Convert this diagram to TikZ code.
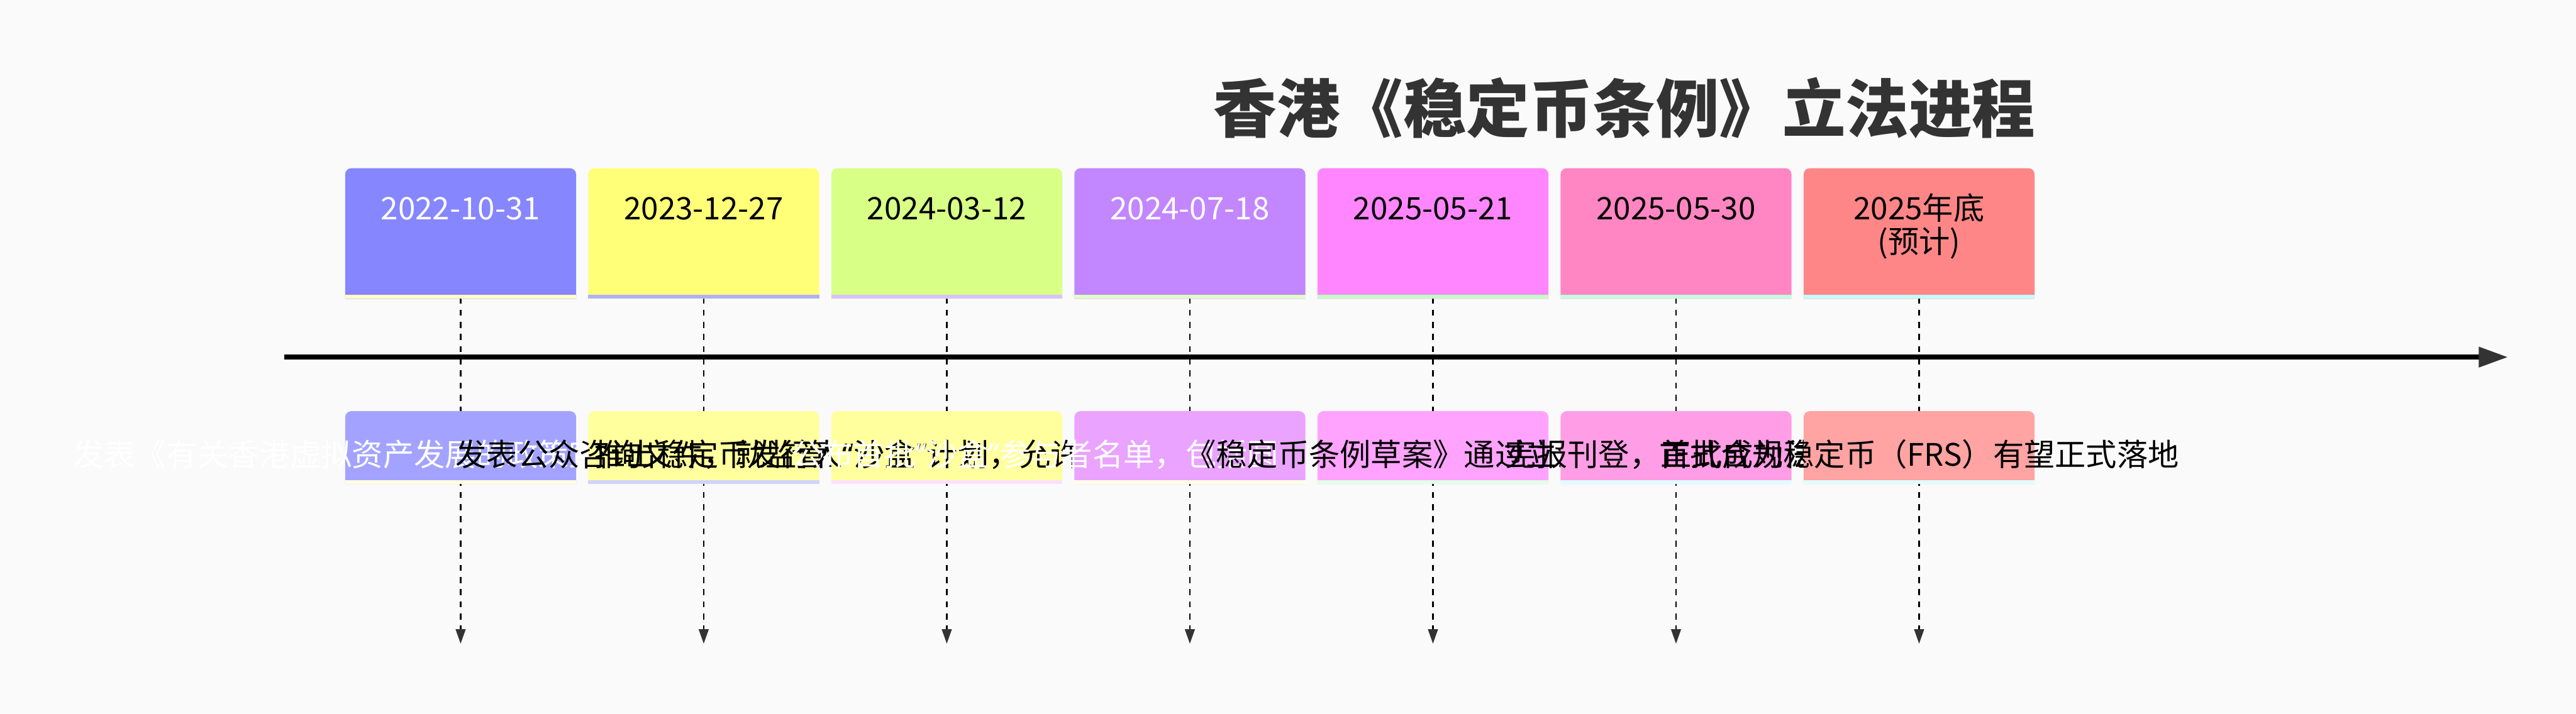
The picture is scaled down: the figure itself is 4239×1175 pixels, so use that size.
\documentclass[tikz,border=0pt]{standalone}
\usepackage{fontspec}
\setmainfont{Noto Sans CJK SC}
\newfontfamily\latf{Noto Sans}
\usetikzlibrary{arrows.meta}
\definecolor{bg}{HTML}{FAFAFA}
\definecolor{ink}{HTML}{333333}
\definecolor{s1}{HTML}{8686FF}\definecolor{s1b}{HTML}{FFFFC2}
\definecolor{s2}{HTML}{FFFF78}\definecolor{s2b}{HTML}{B0B0FF}
\definecolor{s3}{HTML}{D8FF86}\definecolor{s3b}{HTML}{D7C2FF}
\definecolor{s4}{HTML}{C286FF}\definecolor{s4b}{HTML}{E0FFC2}
\definecolor{s5}{HTML}{FF86FF}\definecolor{s5b}{HTML}{C2FFC2}
\definecolor{s6}{HTML}{FF86C2}\definecolor{s6b}{HTML}{C2FFE0}
\definecolor{s7}{HTML}{FF8686}\definecolor{s7b}{HTML}{C2FFFF}
\definecolor{e1}{HTML}{A3A3FF}\definecolor{e1b}{HTML}{FFFFE0}
\definecolor{e2}{HTML}{FFFF9E}\definecolor{e2b}{HTML}{D2D2FF}
\definecolor{e3}{HTML}{FFFF9E}\definecolor{e3b}{HTML}{FCE0FF}
\definecolor{e4}{HTML}{EAA3FF}\definecolor{e4b}{HTML}{FFFFE6}
\definecolor{e5}{HTML}{FFA3FF}\definecolor{e5b}{HTML}{E0FFE6}
\definecolor{e6}{HTML}{FF9EE6}\definecolor{e6b}{HTML}{E0FFFF}
\definecolor{e7}{HTML}{FFA3A3}\definecolor{e7b}{HTML}{E0FFFF}
% top-rounded box: x1, y1, x2, y2, fill, band colour, band height
\newcommand\tlbox[7]{%
  \fill[#5] (#1,#4) -- (#1,#2+10) arc[start angle=180,end angle=90,radius=5pt]
    -- (#3-10,#2) arc[start angle=90,end angle=0,radius=5pt] -- (#3,#4) -- cycle;
  \fill[#6] (#1,#4-#7) rectangle (#3,#4);}
\tikzset{
  datetxt/.style={font=\fontsize{25.5}{27}\selectfont, inner sep=0pt, anchor=base},
  evtxt/.style={font=\fontsize{25.5}{27}\selectfont, inner sep=0pt, anchor=base},
  titletxt/.style={font=\fontsize{52}{56}\selectfont\bfseries, text=ink, inner sep=0pt, anchor=base},
  vline/.style={line width=1.5pt, dash pattern=on 5pt off 5pt, -{Triangle[length=12pt,width=8pt,color=ink]}},
  axisline/.style={line width=4pt, -{Triangle[length=24pt,width=16pt,color=ink]}}
}
\begin{document}
\begin{tikzpicture}[x=0.5pt,y=-0.5pt]
\path[use as bounding box, fill=bg] (0,0) rectangle (4239,1175);
% title
\node[titletxt] (title) at (2673,218) {香港《稳定币条例》立法进程};
% vertical connectors
\foreach \i in {1,...,7}{
  \pgfmathsetmacro\cx{758+400*(\i-1)}
  \coordinate (v\i s) at (\cx,490);
  \coordinate (v\i e) at (\cx,1060);
}
\foreach \i in {1,...,7}{ \draw[vline] (v\i s) -- (v\i e); }
% axis
\coordinate (ax0) at (468,588);
\coordinate (ax1) at (4127,588);
\draw[axisline] (ax0) -- (ax1);
% date boxes
\tlbox{568}{277}{948}{492}{s1}{s1b}{7}
\tlbox{968}{277}{1348}{492}{s2}{s2b}{7}
\tlbox{1368}{277}{1748}{492}{s3}{s3b}{7}
\tlbox{1768}{277}{2148}{492}{s4}{s4b}{7}
\tlbox{2168}{277}{2548}{492}{s5}{s5b}{7}
\tlbox{2568}{277}{2948}{492}{s6}{s6b}{7}
\tlbox{2968}{277}{3348}{492}{s7}{s7b}{7}
\node[datetxt, text=white] (d1) at (758,362) {2022-10-31};
\node[datetxt, text=black] (d2) at (1158,362) {2023-12-27};
\node[datetxt, text=black] (d3) at (1558,362) {2024-03-12};
\node[datetxt, text=white] (d4) at (1958,362) {2024-07-18};
\node[datetxt, text=black] (d5) at (2358,362) {2025-05-21};
\node[datetxt, text=black] (d6) at (2758,362) {2025-05-30};
\node[datetxt, text=black] (d7) at (3158,362) {2025年底};
\node[datetxt, text=black] (d7b) at (3158,417) {(预计)};
% events: each box, then its text (later boxes cover earlier texts)
\tlbox{568}{677}{948}{797}{e1}{e1b}{6}
\node[evtxt, text=white] (ev1) at (758,767) {发表《有关香港虚拟资产发展的政策宣言》，提及稳定币};
\tlbox{968}{677}{1348}{797}{e2}{e2b}{6}
\node[evtxt, text=black] (ev2) at (1158,767) {发表公众咨询文件，就监管立法建议};
\tlbox{1368}{677}{1748}{797}{e3}{e3b}{6}
\node[evtxt, text=black] (ev3) at (1558,767) {推出稳定币发行人{\latf “}沙盒{\latf ”}计划，允许有意发行人测试};
\tlbox{1768}{677}{2148}{797}{e4}{e4b}{6}
\node[evtxt, text=white] (ev4) at (1958,767) {公布首批{\latf “}沙盒{\latf ”}参与者名单，包括圆币、京东币链及渣打等};
\tlbox{2168}{677}{2548}{797}{e5}{e5b}{6}
\node[evtxt, text=black] (ev5) at (2358,767) {《稳定币条例草案》通过立法会三读};
\tlbox{2568}{677}{2948}{797}{e6}{e6b}{6}
\node[evtxt, text=black] (ev6) at (2758,767) {宪报刊登，正式成为法例};
\tlbox{2968}{677}{3348}{797}{e7}{e7b}{6}
\node[evtxt, text=black] (ev7) at (3158,767) {首批合规稳定币（FRS）有望正式落地};
\end{tikzpicture}
\end{document}
